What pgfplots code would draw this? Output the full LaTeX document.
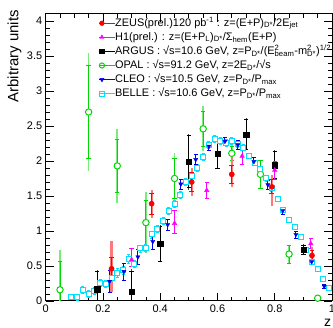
\documentclass[border=0pt]{standalone}
\usepackage{fontspec}
\setmainfont{Liberation Sans}
\usepackage{pgfplots}
\pgfplotsset{compat=1.18}
\definecolor{zeusred}{RGB}{255,0,0}
\definecolor{zeuspale}{RGB}{255,120,120}
\definecolor{hone}{RGB}{255,0,255}
\definecolor{opalg}{RGB}{0,215,0}
\definecolor{opalpale}{RGB}{120,235,120}
\definecolor{cleob}{RGB}{0,0,235}
\definecolor{bellec}{RGB}{0,225,255}
\newcommand{\supsub}[2]{\makebox[0pt][l]{\textsuperscript{#1}}\textsubscript{#2}}
\begin{document}
\begin{tikzpicture}
\begin{axis}[
  at={(0,0)}, anchor=south west,
  scale only axis, width=286.3bp, height=287bp,
  xmin=0, xmax=1, ymin=0, ymax=4.1,
  xtick={0,0.2,0.4,0.6,0.8,1},
  ytick={0,0.5,1,1.5,2,2.5,3,3.5,4},
  minor x tick num=3, minor y tick num=4,
  tick align=inside,
  major tick length=8bp, minor tick length=4bp,
  axis line style={line width=1bp},
  every tick/.style={black, line width=0.8bp},
  /pgf/number format/assume math mode=true,
  tick label style={font=\fontsize{11}{11}\selectfont},
  xlabel={z},
  xlabel style={font=\fontsize{14}{14}\selectfont, at={(axis description cs:0.985,-0.075)}, anchor=center},
  ylabel={Arbitrary units},
  ylabel style={font=\fontsize{15}{15}\selectfont, at={(axis description cs:-0.072,1.025)}, anchor=south east},
  legend cell align=left,
  legend image code/.code={\draw[#1] plot coordinates {(0bp,0bp)}; \path (-3bp,0bp) -- (13bp,0bp);},
  legend style={draw=none, fill=none, at={(axis cs:0.1845,4.05)}, anchor=north west,
    inner sep=0pt, font=\fontsize{11}{12}\selectfont, row sep=3.1bp,
    nodes={inner sep=0pt, text height=8.5bp, text depth=2.5bp}},
]
\addlegendimage{only marks, mark=*, zeusred, mark size=2.4bp}
\addlegendentry{ZEUS(prel.)120 pb\textsuperscript{-1} : z=(E+P)\textsubscript{D*}/2E\textsubscript{jet}}
\addlegendimage{only marks, mark=triangle*, hone, mark size=2.4bp}
\addlegendentry{H1(prel.) : z=(E+P\textsubscript{L})\textsubscript{D*}/Σ\textsubscript{hem}(E+P)}
\addlegendimage{only marks, mark=square*, black, mark size=2.3bp}
\addlegendentry{ARGUS : √s=10.6 GeV, z=P\textsubscript{D*}/(E\supsub{2}{beam}-m\supsub{2}{D*})\textsuperscript{1/2}}
\addlegendimage{only marks, mark=*, opalg, mark options={fill=white, line width=1bp}, mark size=2.6bp}
\addlegendentry{OPAL :  √s=91.2 GeV, z=2E\textsubscript{D*}/√s}
\addlegendimage{only marks, mark=triangle*, cleob, mark options={rotate=180}, mark size=2.4bp}
\addlegendentry{CLEO : √s=10.5 GeV, z=P\textsubscript{D*}/P\textsubscript{max}}
\addlegendimage{only marks, mark=square*, bellec, mark options={fill=white, line width=1bp}, mark size=2.4bp}
\addlegendentry{BELLE : √s=10.6 GeV, z=P\textsubscript{D*}/P\textsubscript{max}}

% OPAL total
\addplot[only marks, mark=none, forget plot,
  error bars/.cd, y dir=both, y explicit, error mark=none,
  error bar style={opalpale, line width=1.6bp}] coordinates {
(0.05,0.16) +- (0,0.57)
(0.15,2.70) +- (0,0.84)
(0.25,1.93) +- (0,0.53)
(0.35,1.12) +- (0,0.43)
(0.45,1.75) +- (0,0.36)
(0.55,2.46) +- (0,0.32)
(0.65,2.11) +- (0,0.13)
(0.75,1.81) +- (0,0.21)
(0.85,0.67) +- (0,0.13)
(0.95,0.04) +- (0,0.02)
};
% OPAL stat
\addplot[only marks, mark=*, mark size=3.2bp, opalg, mark options={fill=white, line width=1bp}, forget plot,
  error bars/.cd, y dir=both, y explicit, error mark=-,
  error mark options={rotate=90, mark size=2.2bp, line width=0.8bp, opalg},
  error bar style={opalg, line width=1bp}] coordinates {
(0.05,0.16) +- (0,0.41)
(0.15,2.70) +- (0,0.67)
(0.25,1.93) +- (0,0.38)
(0.35,1.12) +- (0,0.32)
(0.45,1.75) +- (0,0.28)
(0.55,2.46) +- (0,0.25)
(0.65,2.11) +- (0,0.10)
(0.75,1.81) +- (0,0.20)
(0.85,0.67) +- (0,0.13)
(0.95,0.04) +- (0,0.02)
};
% ARGUS total
\addplot[only marks, mark=none, forget plot,
  error bars/.cd, y dir=both, y explicit, error mark=none,
  error bar style={black!75, line width=1.2bp}] coordinates {
(0.18,0.17) +- (0,0.27)
(0.30,0.13) +- (0,0.32)
(0.40,0.82) +- (0,0.27)
(0.50,1.99) +- (0,0.40)
(0.60,2.10) +- (0,0.22)
(0.70,2.38) +- (0,0.23)
(0.80,1.94) +- (0,0.21)
(0.90,0.73) +- (0,0.08)
};
% BELLE
\addplot[only marks, mark=square*, mark size=2.5bp, bellec, mark options={fill=white, line width=1bp}, forget plot,
  error bars/.cd, y dir=both, y explicit, error mark=-,
  error mark options={rotate=90, mark size=1.5bp, line width=0.8bp, bellec},
  error bar style={bellec, line width=1bp}] coordinates {
(0.09,0.06) +- (0,0.04)
(0.11,0.05) +- (0,0.04)
(0.13,0.16) +- (0,0.05)
(0.15,0.10) +- (0,0.05)
(0.17,0.14) +- (0,0.05)
(0.19,0.26) +- (0,0.05)
(0.21,0.24) +- (0,0.05)
(0.23,0.33) +- (0,0.06)
(0.25,0.40) +- (0,0.06)
(0.27,0.44) +- (0,0.06)
(0.29,0.60) +- (0,0.06)
(0.31,0.53) +- (0,0.05)
(0.33,0.75) +- (0,0.05)
(0.35,0.76) +- (0,0.05)
(0.37,0.95) +- (0,0.05)
(0.39,1.03) +- (0,0.05)
(0.41,1.14) +- (0,0.05)
(0.43,1.29) +- (0,0.05)
(0.45,1.38) +- (0,0.05)
(0.47,1.51) +- (0,0.05)
(0.49,1.70) +- (0,0.05)
(0.51,1.78) +- (0,0.05)
(0.53,1.90) +- (0,0.05)
(0.55,2.06) +- (0,0.05)
(0.57,2.23) +- (0,0.05)
(0.59,2.32) +- (0,0.05)
(0.61,2.28) +- (0,0.05)
(0.63,2.26) +- (0,0.05)
(0.65,2.29) +- (0,0.05)
(0.67,2.24) +- (0,0.05)
(0.69,2.19) +- (0,0.04)
(0.71,2.07) +- (0,0.04)
(0.73,1.97) +- (0,0.04)
(0.75,1.88) +- (0,0.04)
(0.77,1.75) +- (0,0.04)
(0.79,1.61) +- (0,0.04)
(0.81,1.46) +- (0,0.04)
(0.83,1.30) +- (0,0.04)
(0.85,1.15) +- (0,0.03)
(0.87,1.05) +- (0,0.03)
(0.89,0.91) +- (0,0.03)
(0.91,0.73) +- (0,0.03)
(0.93,0.55) +- (0,0.03)
(0.95,0.45) +- (0,0.03)
(0.97,0.31) +- (0,0.03)
(0.99,0.18) +- (0,0.03)
};
% CLEO
\addplot[only marks, mark=triangle*, mark size=2.4bp, cleob, mark options={rotate=180}, forget plot,
  error bars/.cd, y dir=both, y explicit, error mark=-,
  error mark options={rotate=90, mark size=2bp, line width=0.9bp, cleob},
  error bar style={cleob, line width=1bp}] coordinates {
(0.223,0.28) +- (0,0.16)
(0.273,0.42) +- (0,0.12)
(0.322,0.63) +- (0,0.11)
(0.374,0.85) +- (0,0.11)
(0.426,1.09) +- (0,0.08)
(0.472,1.67) +- (0,0.07)
(0.524,2.02) +- (0,0.07)
(0.570,2.21) +- (0,0.06)
(0.626,2.28) +- (0,0.06)
(0.671,2.23) +- (0,0.06)
(0.727,1.99) +- (0,0.06)
(0.776,1.66) +- (0,0.06)
(0.828,1.29) +- (0,0.05)
(0.874,0.95) +- (0,0.05)
(0.929,0.56) +- (0,0.04)
(0.973,0.21) +- (0,0.03)
};
% ARGUS stat
\addplot[only marks, mark=square*, mark size=2.6bp, black, forget plot,
  error bars/.cd, y dir=both, y explicit, error mark=-,
  error mark options={rotate=90, mark size=2.2bp, line width=0.8bp, black},
  error bar style={black, line width=1bp}] coordinates {
(0.18,0.17) +- (0,0.25)
(0.30,0.13) +- (0,0.30)
(0.40,0.82) +- (0,0.25)
(0.50,1.99) +- (0,0.37)
(0.60,2.10) +- (0,0.20)
(0.70,2.38) +- (0,0.21)
(0.80,1.94) +- (0,0.19)
(0.90,0.73) +- (0,0.07)
};
% H1
\addplot[only marks, mark=triangle*, mark size=2.6bp, hone, forget plot,
  error bars/.cd, y dir=both, y explicit, error mark=-,
  error mark options={rotate=90, mark size=2.2bp, line width=0.8bp, hone},
  error bar style={hone, line width=1bp}] coordinates {
(0.30,0.59) += (0,0.16) -= (0,0.10)
(0.45,1.11) += (0,0.19) -= (0,0.14)
(0.5625,1.58) +- (0,0.12)
(0.686,2.07) +- (0,0.12)
(0.80,1.87) +- (0,0.13)
(0.926,0.82) +- (0,0.07)
};
% ZEUS total
\addplot[only marks, mark=none, forget plot,
  error bars/.cd, y dir=both, y explicit, error mark=none,
  error bar style={zeuspale, line width=2.2bp}] coordinates {
(0.23,0.46) += (0,0.40) -= (0,0.33)
(0.37,1.39) +- (0,0.20)
(0.51,1.70) +- (0,0.20)
(0.65,1.81) += (0,0.28) -= (0,0.18)
(0.79,1.63) += (0,0.17) -= (0,0.28)
(0.93,0.65) +- (0,0.12)
};
% ZEUS stat
\addplot[only marks, mark=*, mark size=2.6bp, zeusred, forget plot,
  error bars/.cd, y dir=both, y explicit, error mark=-,
  error mark options={rotate=90, mark size=2.4bp, line width=0.8bp, zeusred},
  error bar style={zeusred, line width=0.9bp}] coordinates {
(0.23,0.46) +- (0,0.17)
(0.37,1.39) +- (0,0.15)
(0.51,1.70) +- (0,0.13)
(0.65,1.81) +- (0,0.13)
(0.79,1.63) +- (0,0.10)
(0.93,0.65) +- (0,0.07)
};
\end{axis}
\pgfresetboundingbox
\useasboundingbox (-45.7bp,-27bp) rectangle (287.3bp,301bp);
\end{tikzpicture}
\end{document}
